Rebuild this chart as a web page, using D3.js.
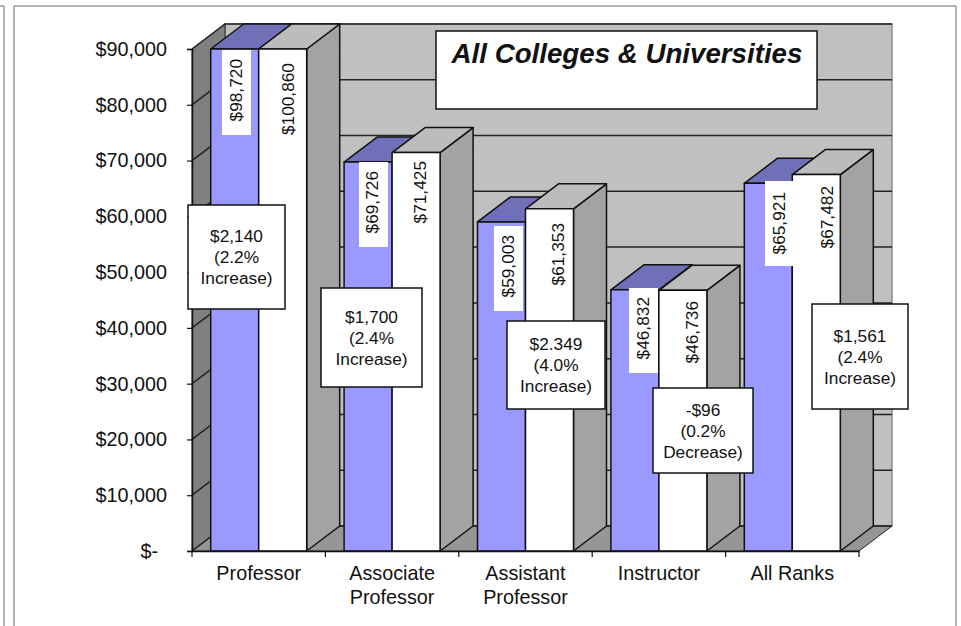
<!DOCTYPE html>
<html>
<head>
<meta charset="utf-8">
<script src="https://cdnjs.cloudflare.com/ajax/libs/d3/7.8.5/d3.min.js"></script>
<style>
  html, body { margin: 0; padding: 0; background: #fff; }
  text { font-family: "Liberation Sans", Arial, sans-serif; fill: #111; }
</style>
</head>
<body>
<div id="chart"></div>
<script>
// data
const categories = ["Professor", "Associate Professor", "Assistant Professor", "Instructor", "All Ranks"];
const earlierYear = [98720, 69726, 59003, 46832, 65921];
const laterYear = [100860, 71425, 61353, 46736, 67482];
const axisTicks = [0, 10000, 20000, 30000, 40000, 50000, 60000, 70000, 80000, 90000];
const chartTitle = "All Colleges & Universities";
const changeNotes = [
  ["$2,140", "(2.2%", "Increase)"],
  ["$1,700", "(2.4%", "Increase)"],
  ["$2.349", "(4.0%", "Increase)"],
  ["-$96", "(0.2%", "Decrease)"],
  ["$1,561", "(2.4%", "Increase)"]
];

// layout of the note boxes and value labels, separate from the values
const noteBoxes = [
  { x: 188, y: 205, w: 97, h: 104 },
  { x: 321, y: 288, w: 101, h: 99 },
  { x: 507, y: 321, w: 98, h: 88 },
  { x: 653, y: 388, w: 100, h: 85 },
  { x: 812, y: 304, w: 96, h: 105 }
];
const labelSpots = [
  [{ x: 236, y: 59 }, { x: 372, y: 171 }, { x: 508, y: 235 }, { x: 643, y: 297 }, { x: 779, y: 192 }],
  [{ x: 288, y: 63 }, { x: 420, y: 161 }, { x: 558, y: 223 }, { x: 692, y: 301 }, { x: 827, y: 186 }]
];
const labelBoxes = [
  { x: 222, y: 50 }, { x: 359, y: 162 }, { x: 494, y: 226 }, { x: 629, y: 288 }, { x: 765, y: 181 }
];

const width = 961, height = 626;
const depth = { x: 33, y: 25 };
const plot = { left: 192, right: 859, top: 49, bottom: 551 };
const groupWidth = 96;

const svg = d3.select("#chart").append("svg")
  .attr("width", width).attr("height", height)
  .style("display", "block");

// page frame, runs off the bottom of the picture
svg.append("path")
  .attr("d", `M0,6H4V${height}M14,${height}V6H956V${height}`)
  .attr("fill", "none").attr("stroke", "#666").attr("stroke-width", 1);

const y = d3.scaleLinear().domain([0, 90000]).range([plot.bottom, plot.top]).clamp(true);
const x0 = d3.scaleBand().domain(categories).range([plot.left, plot.right]);
const x1 = d3.scaleBand().domain([0, 1]).range([0, groupWidth]);
const groupStart = d => x0(d) + (x0.step() - groupWidth) / 2;

const poly = pts => "M" + pts.map(p => p.join(",")).join("L") + "Z";
const line = d3.line();

// walls and floor
svg.append("path").attr("fill", "#c0c0c0").attr("stroke", "#8a8a8a").attr("stroke-width", 1.5)
  .attr("d", poly([
    [plot.left + depth.x, plot.top - depth.y],
    [plot.right + depth.x, plot.top - depth.y],
    [plot.right + depth.x, plot.bottom - depth.y],
    [plot.left + depth.x, plot.bottom - depth.y]
  ]));
svg.append("path").attr("fill", "#808080").attr("stroke", "#222").attr("stroke-width", 1)
  .attr("d", poly([
    [plot.left, plot.top],
    [plot.left + depth.x, plot.top - depth.y],
    [plot.left + depth.x, plot.bottom - depth.y],
    [plot.left, plot.bottom]
  ]));
svg.append("path").attr("fill", "#969696").attr("stroke", "#222").attr("stroke-width", 1)
  .attr("d", poly([
    [plot.left, plot.bottom],
    [plot.left + depth.x, plot.bottom - depth.y],
    [plot.right + depth.x, plot.bottom - depth.y],
    [plot.right, plot.bottom]
  ]));

// gridlines on the back wall and the left wall
svg.append("g").selectAll("path").data(axisTicks).join("path")
  .attr("fill", "none").attr("stroke", "#222").attr("stroke-width", 1.5)
  .attr("d", d => line([
    [plot.left, y(d)],
    [plot.left + depth.x, y(d) - depth.y],
    [plot.right + depth.x, y(d) - depth.y]
  ]));

// bars, drawn as three faces each
const series = [
  { values: earlierYear, front: "#9999ff", top: "#7070b9", side: "#7070b9" },
  { values: laterYear, front: "#ffffff", top: "#bcbcbc", side: "#a3a3a3" }
];

categories.forEach((cat, i) => {
  series.forEach((s, k) => {
    const left = groupStart(cat) + x1(k);
    const right = left + x1.bandwidth();
    const t = y(s.values[i]);
    const bar = svg.append("g")
      .attr("stroke", "#111")
      .attr("stroke-width", 1.5)
      .attr("stroke-linejoin", "round");
    bar.append("path").attr("fill", s.side).attr("d", poly([
      [right, t], [right + depth.x, t - depth.y],
      [right + depth.x, plot.bottom - depth.y], [right, plot.bottom]
    ]));
    bar.append("path").attr("fill", s.top).attr("d", poly([
      [left, t], [left + depth.x, t - depth.y],
      [right + depth.x, t - depth.y], [right, t]
    ]));
    bar.append("rect").attr("fill", s.front)
      .attr("x", left).attr("y", t)
      .attr("width", right - left).attr("height", plot.bottom - t);
  });
});

// axes
const yAxis = d3.axisLeft(y).tickValues(axisTicks).tickSize(5).tickPadding(20)
  .tickFormat(d => d === 0 ? "$-" : d3.format("$,")(d));
const yG = svg.append("g").attr("transform", `translate(${plot.left},0)`).call(yAxis);
yG.attr("font-family", null).attr("font-size", null);
yG.select(".domain").attr("stroke", "#111").attr("stroke-width", 1.5);
yG.selectAll(".tick line").attr("stroke", "#111").attr("stroke-width", 1.2);
yG.selectAll(".tick text").style("font-size", "19.8px").attr("fill", null)
  .attr("dx", d => d === 0 ? -9 : 0);

const xAxis = d3.axisBottom(x0).tickSize(0).tickFormat("");
const xG = svg.append("g").attr("transform", `translate(0,${plot.bottom})`).call(xAxis);
xG.select(".domain").attr("stroke", "#111").attr("stroke-width", 1.5);

xG.selectAll(".edge").data(categories.concat("end")).join("line")
  .attr("class", "edge")
  .attr("x1", d => d === "end" ? plot.right : x0(d))
  .attr("x2", d => d === "end" ? plot.right : x0(d))
  .attr("y1", 0).attr("y2", 6)
  .attr("stroke", "#111").attr("stroke-width", 1.2);

xG.selectAll(".cat").data(categories).join("text")
  .attr("class", "cat")
  .attr("text-anchor", "middle")
  .style("font-size", "19.8px")
  .each(function (d) {
    const words = d.endsWith(" Professor") ? d.split(" ") : [d];
    d3.select(this).selectAll("tspan").data(words).join("tspan")
      .attr("x", x0(d) + x0.bandwidth() / 2)
      .attr("y", (w, j) => 29 + j * 24)
      .text(w => w);
  });

// rotated value labels, the first series sits on a white patch
labelBoxes.forEach(b => {
  svg.append("rect").attr("fill", "#fff")
    .attr("x", b.x).attr("y", b.y)
    .attr("width", 29).attr("height", 85);
});
series.forEach((s, k) => {
  s.values.forEach((v, i) => {
    const spot = labelSpots[k][i];
    svg.append("text")
      .attr("transform", `translate(${spot.x + 6},${spot.y}) rotate(-90)`)
      .attr("text-anchor", "end")
      .style("font-size", "17.3px")
      .text(d3.format("$,")(v));
  });
});

// title box
svg.append("rect").attr("x", 436).attr("y", 31).attr("width", 381).attr("height", 78)
  .attr("fill", "#fff").attr("stroke", "#111").attr("stroke-width", 1.5);
svg.append("text").attr("x", 627).attr("y", 63)
  .attr("text-anchor", "middle")
  .style("font-size", "27.7px").style("font-weight", "bold").style("font-style", "italic")
  .text(chartTitle);

// change notes
const notes = svg.selectAll(".note").data(changeNotes).join("g").attr("class", "note");
notes.append("rect")
  .attr("x", (d, i) => noteBoxes[i].x).attr("y", (d, i) => noteBoxes[i].y)
  .attr("width", (d, i) => noteBoxes[i].w).attr("height", (d, i) => noteBoxes[i].h)
  .attr("fill", "#fff").attr("stroke", "#111").attr("stroke-width", 1.5);
notes.each(function (d, i) {
  const b = noteBoxes[i];
  d3.select(this).selectAll("text").data(d).join("text")
    .attr("x", b.x + b.w / 2)
    .attr("y", (l, j) => b.y + b.h / 2 - 15 + j * 21)
    .attr("text-anchor", "middle")
    .style("font-size", "17.3px")
    .text(l => l);
});
</script>
</body>
</html>
